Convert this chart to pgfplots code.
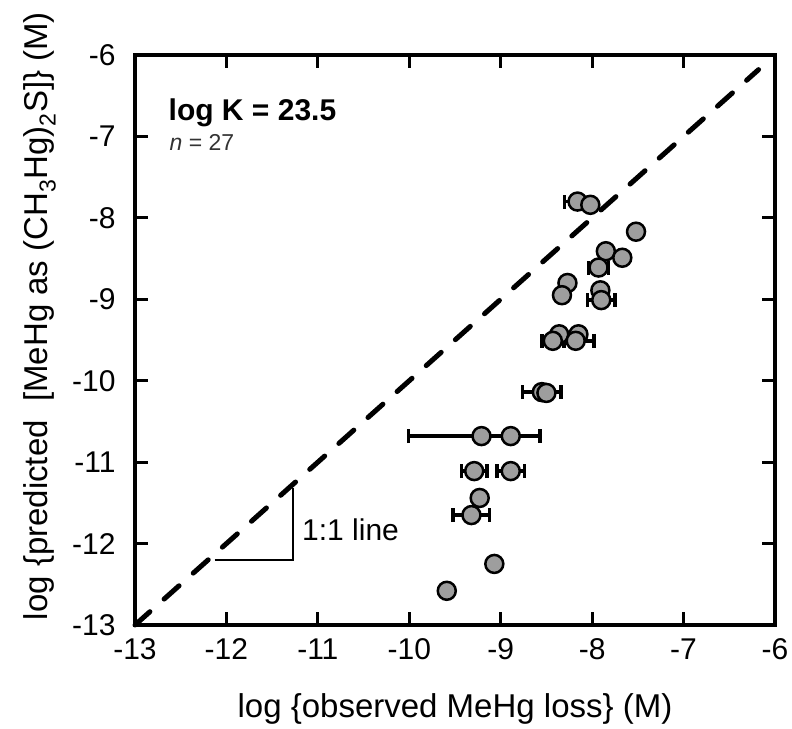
\documentclass[border=0pt]{standalone}
\usepackage{fontspec}
\setmainfont{Liberation Sans}
\usepackage{pgfplots}
\pgfplotsset{compat=1.18}
\begin{document}
\begin{tikzpicture}
\path[use as bounding box] (-135bp,-104bp) rectangle (657bp,625bp);
\begin{axis}[
  at={(0,0)}, anchor=south west,
  scale only axis, width=640bp, height=570bp,
  xmin=-13, xmax=-6, ymin=-13, ymax=-6,
  xtick={-13,-12,...,-6}, ytick={-13,-12,...,-6},
  tick align=inside, tick pos=both,
  major tick length=13bp,
  axis line style={line width=3.5bp},
  major tick style={line width=3bp, black},
  /pgf/number format/assume math mode=true,
  tick label style={font=\fontsize{30bp}{36bp}\selectfont},
  yticklabel style={xshift=-16bp},
  xticklabel style={yshift=-10bp},
  label style={font=\fontsize{33bp}{40bp}\selectfont},
  xlabel={log \{observed MeHg loss\} (M)},
  xlabel style={at={(axis description cs:0.5,0)}, anchor=base, yshift=-92bp},
  ylabel={log \{predicted\ \ [MeHg as (CH\textsubscript{3}Hg)\textsubscript{2}S]\} (M)},
  ylabel style={at={(axis description cs:-0.136,0.542)}, anchor=base},
  clip=false,
]
% 1:1 line
\addplot[black, line width=5bp, dash pattern=on 20bp off 19bp, line cap=round, mark=none]
  coordinates {(-13,-13) (-6.18,-6.18)};
% slope triangle
\addplot[black, line width=2.2bp, mark=none]
  coordinates {(-12.13,-12.20) (-11.27,-12.20) (-11.27,-11.32)};
% data
\addplot[only marks, mark=*, mark size=9bp,
  mark options={fill=black!38, draw=black, line width=2.5bp},
  error bars/.cd, x dir=both, x explicit, error mark=|,
  error bar style={line width=3.5bp, black},
  error mark options={line width=3.5bp, mark size=7bp, black}]
coordinates {
  (-8.16,-7.80) +- (0.14,0)
  (-8.02,-7.84) +- (0,0)
  (-7.52,-8.17) +- (0,0)
  (-7.85,-8.41) +- (0,0)
  (-7.67,-8.49) +- (0,0)
  (-7.93,-8.61) +- (0.11,0)
  (-8.27,-8.80) +- (0,0)
  (-8.33,-8.95) +- (0,0)
  (-7.91,-8.89) +- (0,0)
  (-7.90,-9.01) +- (0.15,0)
  (-8.36,-9.43) +- (0,0)
  (-8.43,-9.51) +- (0.12,0)
  (-8.15,-9.43) +- (0,0)
  (-8.18,-9.51) +- (0.20,0)
  (-8.55,-10.14) +- (0.21,0)
  (-8.50,-10.15) +- (0,0)
  (-9.21,-10.68) -= (0.80,0) += (0.64,0)
  (-8.89,-10.68) +- (0,0)
  (-9.29,-11.11) +- (0.14,0)
  (-8.89,-11.11) +- (0.15,0)
  (-9.23,-11.44) +- (0,0)
  (-9.32,-11.65) +- (0.20,0)
  (-9.07,-12.25) +- (0,0)
  (-9.59,-12.58) +- (0.05,0)
};
\node[anchor=base west, font=\bfseries\fontsize{30bp}{36bp}\selectfont] at (axis cs:-12.67,-6.80) {log K = 23.5};
\node[anchor=base west, font=\fontsize{23bp}{28bp}\selectfont, text=black!80] at (axis cs:-12.66,-7.17) {\textit{n} = 27};
\node[anchor=base west, font=\fontsize{30bp}{36bp}\selectfont] at (axis cs:-11.21,-11.96) {1:1 line};
\end{axis}
\end{tikzpicture}
\end{document}
